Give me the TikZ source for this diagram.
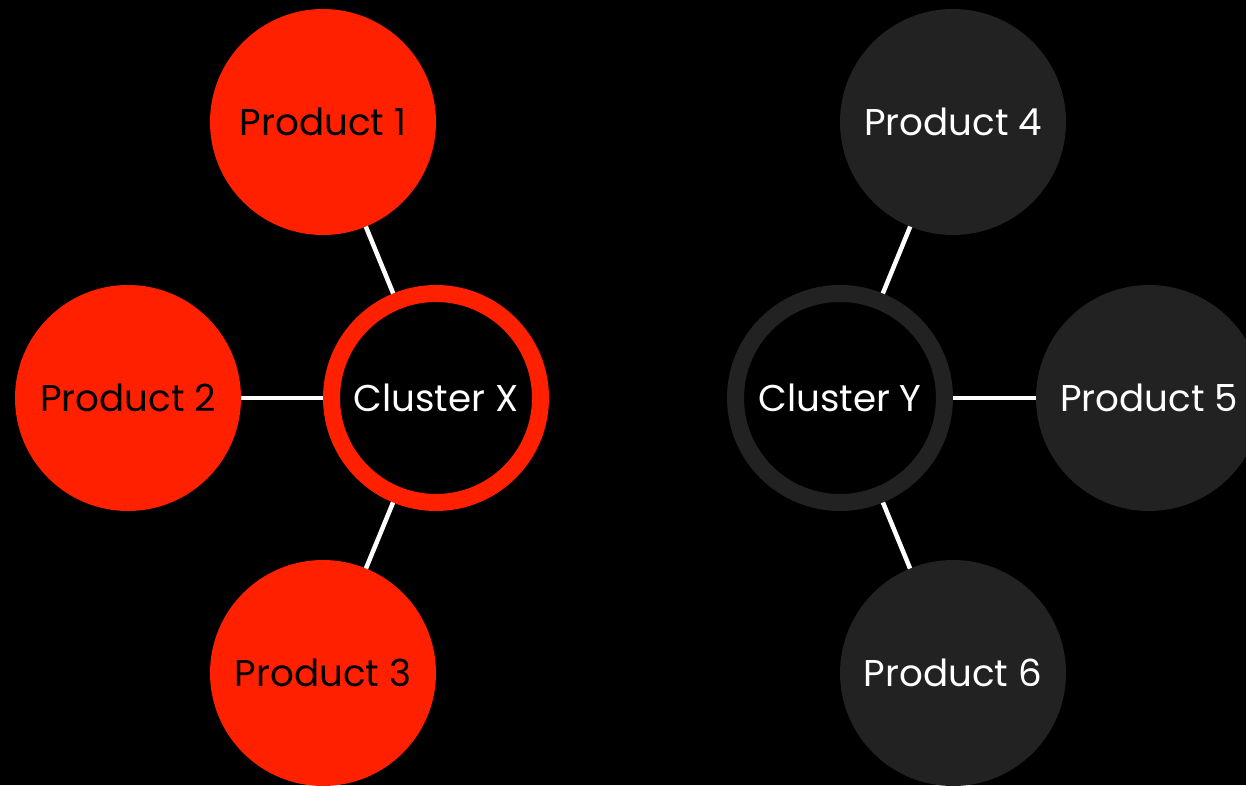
\documentclass[tikz,border=0pt]{standalone}
\usepackage{fontspec}
\setmainfont{Poppins}
\usepackage{xcolor}
\usepackage{tikz}
\usetikzlibrary{positioning}

\definecolor{hotred}{RGB}{255,32,0}
\definecolor{darkgrey}{RGB}{34,34,34}

\tikzset{
    product/.style={circle, minimum size=4.52cm, inner sep=0pt, outer sep=0pt, font=\fontsize{21.2}{25}\selectfont},
    cluster/.style={circle, draw, line width=0.34cm, minimum size=4.18cm, inner sep=0pt, font=\fontsize{21.2}{25}\selectfont, text=white},
    link/.style={draw=white, line width=0.09cm}
}

\begin{document}
\begin{tikzpicture}
    \useasboundingbox[fill=black] (0,0) rectangle (24.92,15.7);

    % left group
    \node[cluster, draw=hotred] (CX) at (8.72,7.74) {Cluster X};
    \node[product, fill=hotred, text=black] (P1) at (6.46,13.26) {Product 1};
    \node[product, fill=hotred, text=black] (P2) at (2.56,7.74) {Product 2};
    \node[product, fill=hotred, text=black] (P3) at (6.46,2.24) {Product 3};

    % right group
    \node[cluster, draw=darkgrey] (CY) at (16.8,7.74) {Cluster Y};
    \node[product, fill=darkgrey, text=white] (P4) at (19.06,13.26) {Product 4};
    \node[product, fill=darkgrey, text=white] (P5) at (22.98,7.74) {Product 5};
    \node[product, fill=darkgrey, text=white] (P6) at (19.06,2.24) {Product 6};

    \draw[link] (CX) -- (P1);
    \draw[link] (CX) -- (P2);
    \draw[link] (CX) -- (P3);
    \draw[link] (CY) -- (P4);
    \draw[link] (CY) -- (P5);
    \draw[link] (CY) -- (P6);
\end{tikzpicture}
\end{document}
